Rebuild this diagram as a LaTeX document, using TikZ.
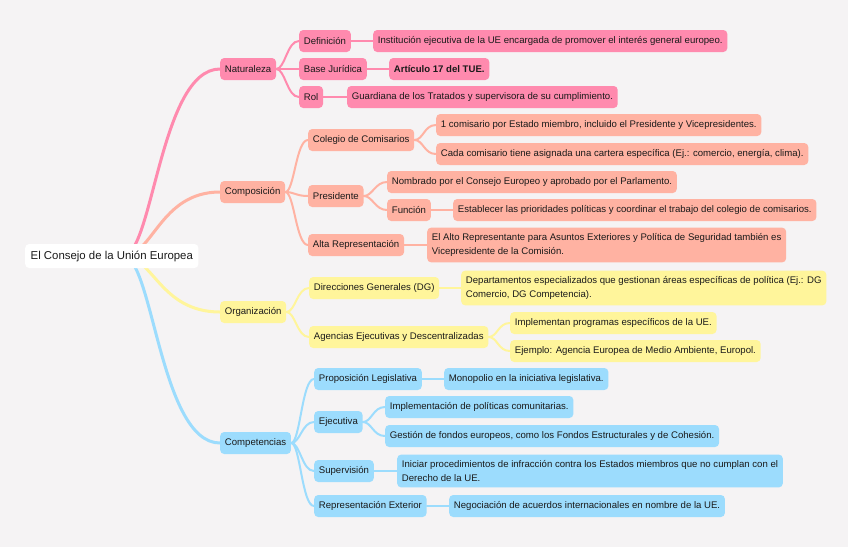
\documentclass[tikz,border=0pt]{standalone}
\usepackage{fontspec}
\setmainfont{Liberation Sans}
\pgfdeclarelayer{bglayer}
\pgfdeclarelayer{linelayer}
\pgfsetlayers{bglayer,linelayer,main}
\definecolor{bgc}{HTML}{F5F3F4}
\definecolor{cpink}{HTML}{FF8AAE}
\definecolor{csalmon}{HTML}{FFB2A2}
\definecolor{cyellow}{HTML}{FFF59B}
\definecolor{cblue}{HTML}{9CDCFD}
\definecolor{ctext}{HTML}{1A1A1A}
\tikzset{
  box/.style={rounded corners=4pt, inner xsep=4.7pt, inner ysep=6pt, minimum height=22pt,
    anchor=west, align=left, text=ctext, font=\fontsize{9.6}{13.7}\selectfont},
  pinkbox/.style={box, fill=cpink},
  salmonbox/.style={box, fill=csalmon},
  yellowbox/.style={box, fill=cyellow},
  bluebox/.style={box, fill=cblue},
  lone/.style={line width=3pt, line cap=round},
  ltwo/.style={line width=2pt, line cap=round},
}
\newcommand{\curveto}[3]{\draw[#1] (#2.east) .. controls +(9,0) and +(-12,0) .. (#3.west);}
\newcommand{\lineto}[3]{\draw[#1] (#2.east) -- (#3.west);}
\begin{document}
\begin{tikzpicture}[x=1pt,y=-1pt]
\begin{pgfonlayer}{bglayer}
\fill[bgc] (0,0) rectangle (848,547);
\end{pgfonlayer}
\useasboundingbox (0,0) rectangle (848,547);

% root
\node[box, fill=white, minimum height=24pt, inner xsep=5.5pt, font=\fontsize{11.4}{14}\selectfont] (root) at (25,256) {El Consejo de la Unión Europea};
\coordinate (hub) at (123,256);

% Naturaleza
\node[pinkbox] (nat) at (220,69) {Naturaleza};
\node[pinkbox] (def) at (299,41) {Definición};
\node[pinkbox] (defT) at (373,41) {Institución ejecutiva de la UE encargada de promover el interés general europeo.};
\node[pinkbox] (base) at (299,69) {Base Jurídica};
\node[pinkbox] (baseT) at (389,69) {\bfseries Artículo 17 del TUE.};
\node[pinkbox] (rol) at (299,97) {Rol};
\node[pinkbox] (rolT) at (347,97) {Guardiana de los Tratados y supervisora de su cumplimiento.};

% Composición
\node[salmonbox] (comp) at (220,192) {Composición};
\node[salmonbox] (col) at (308,140) {Colegio de Comisarios};
\node[salmonbox] (colA) at (436,125) {1 comisario por Estado miembro, incluido el Presidente y Vicepresidentes.};
\node[salmonbox] (colB) at (436,154) {Cada comisario tiene asignada una cartera específica (Ej.: comercio, energía, clima).};
\node[salmonbox] (pres) at (308,196) {Presidente};
\node[salmonbox] (presA) at (387,182) {Nombrado por el Consejo Europeo y aprobado por el Parlamento.};
\node[salmonbox] (presF) at (387,210) {Función};
\node[salmonbox] (presFT) at (453,210) {Establecer las prioridades políticas y coordinar el trabajo del colegio de comisarios.};
\node[salmonbox] (alta) at (308,245) {Alta Representación};
\node[salmonbox] (altaT) at (427,245) {El Alto Representante para Asuntos Exteriores y Política de Seguridad también es\\Vicepresidente de la Comisión.};

% Organización
\node[yellowbox] (org) at (220,312) {Organización};
\node[yellowbox] (dg) at (309,288) {Direcciones Generales (DG)};
\node[yellowbox] (dgT) at (461,288) {Departamentos especializados que gestionan áreas específicas de política (Ej.: DG\\Comercio, DG Competencia).};
\node[yellowbox] (age) at (309,337) {Agencias Ejecutivas y Descentralizadas};
\node[yellowbox] (ageA) at (510,323) {Implementan programas específicos de la UE.};
\node[yellowbox] (ageB) at (510,351) {Ejemplo: Agencia Europea de Medio Ambiente, Europol.};

% Competencias
\node[bluebox] (cpt) at (220,443) {Competencias};
\node[bluebox] (prop) at (314,379) {Proposición Legislativa};
\node[bluebox] (propT) at (444,379) {Monopolio en la iniciativa legislativa.};
\node[bluebox] (eje) at (314,422) {Ejecutiva};
\node[bluebox] (ejeA) at (385,407) {Implementación de políticas comunitarias.};
\node[bluebox] (ejeB) at (385,436) {Gestión de fondos europeos, como los Fondos Estructurales y de Cohesión.};
\node[bluebox] (sup) at (314,471) {Supervisión};
\node[bluebox] (supT) at (397,471) {Iniciar procedimientos de infracción contra los Estados miembros que no cumplan con el\\Derecho de la UE.};
\node[bluebox] (rep) at (314,506) {Representación Exterior};
\node[bluebox] (repT) at (449,506) {Negociación de acuerdos internacionales en nombre de la UE.};

\begin{pgfonlayer}{linelayer}
% level 1
\draw[lone, cpink] (hub) .. controls +(30,0) and +(-60,0) .. (nat.west);
\draw[lone, csalmon] (hub) .. controls +(30,0) and +(-60,0) .. (comp.west);
\draw[lone, cyellow] (hub) .. controls +(30,0) and +(-60,0) .. (org.west);
\draw[lone, cblue] (hub) .. controls +(30,0) and +(-60,0) .. (cpt.west);
% pink
\curveto{ltwo, cpink}{nat}{def}
\lineto{ltwo, cpink}{nat}{base}
\curveto{ltwo, cpink}{nat}{rol}
\lineto{ltwo, cpink}{def}{defT}
\lineto{ltwo, cpink}{base}{baseT}
\lineto{ltwo, cpink}{rol}{rolT}
% salmon
\curveto{ltwo, csalmon}{comp}{col}
\curveto{ltwo, csalmon}{comp}{pres}
\curveto{ltwo, csalmon}{comp}{alta}
\curveto{ltwo, csalmon}{col}{colA}
\curveto{ltwo, csalmon}{col}{colB}
\curveto{ltwo, csalmon}{pres}{presA}
\curveto{ltwo, csalmon}{pres}{presF}
\lineto{ltwo, csalmon}{presF}{presFT}
\lineto{ltwo, csalmon}{alta}{altaT}
% yellow
\curveto{ltwo, cyellow}{org}{dg}
\curveto{ltwo, cyellow}{org}{age}
\lineto{ltwo, cyellow}{dg}{dgT}
\curveto{ltwo, cyellow}{age}{ageA}
\curveto{ltwo, cyellow}{age}{ageB}
% blue
\curveto{ltwo, cblue}{cpt}{prop}
\curveto{ltwo, cblue}{cpt}{eje}
\curveto{ltwo, cblue}{cpt}{sup}
\curveto{ltwo, cblue}{cpt}{rep}
\lineto{ltwo, cblue}{prop}{propT}
\curveto{ltwo, cblue}{eje}{ejeA}
\curveto{ltwo, cblue}{eje}{ejeB}
\lineto{ltwo, cblue}{sup}{supT}
\lineto{ltwo, cblue}{rep}{repT}
\end{pgfonlayer}
\end{tikzpicture}
\end{document}
